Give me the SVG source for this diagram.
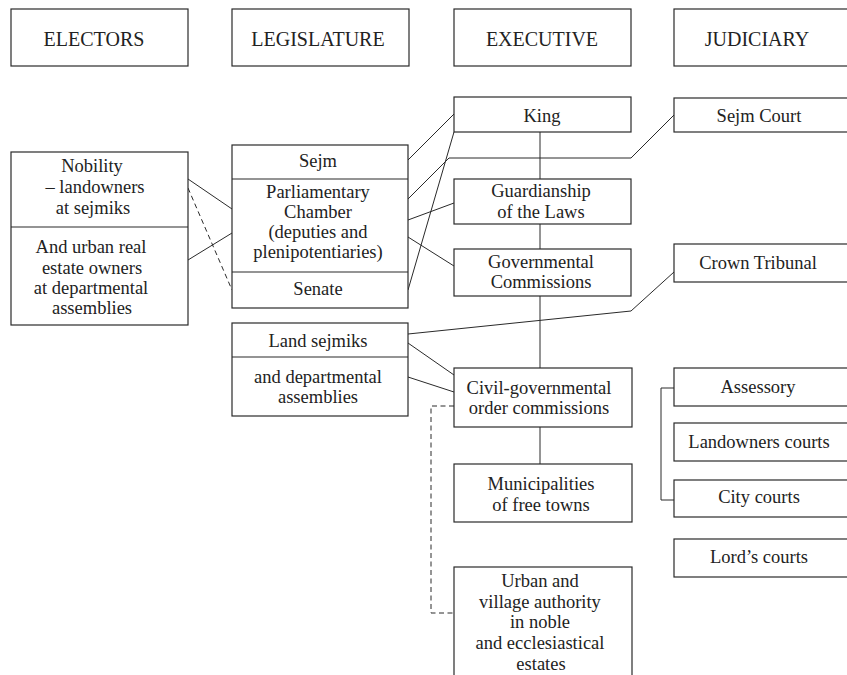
<svg xmlns="http://www.w3.org/2000/svg" width="847" height="675" viewBox="0 0 847 675">
<style>
rect{fill:#fff;stroke:#2a2a2a;stroke-width:1.2}
.sep{stroke:#2a2a2a;stroke-width:1.2}
text{font-family:"Liberation Serif","Times New Roman",serif;font-size:18.5px;fill:#222;text-anchor:middle}
.h{font-size:20px}
#connectors path,#connectors line{fill:none;stroke:#2a2a2a;stroke-width:1}
#connectors .d{stroke-dasharray:5 3.5}
</style>
<rect width="847" height="675" style="fill:#fff;stroke:none"/>
<g id="connectors">
<line x1="188" y1="179" x2="232" y2="209"/>
<line x1="188" y1="260" x2="232" y2="233"/>
<line class="d" x1="188" y1="188" x2="232" y2="290"/>
<line x1="408" y1="160" x2="454" y2="114"/>
<path d="M408 199 L449 158 L631 158 L674 115"/>
<line x1="408" y1="220" x2="454" y2="203"/>
<line x1="408" y1="237" x2="454" y2="266"/>
<line x1="408" y1="290" x2="454" y2="132"/>
<path d="M408 334 L631 311 L674 272"/>
<line x1="408" y1="343" x2="454" y2="375"/>
<line x1="408" y1="377" x2="454" y2="392"/>
<path class="d" d="M454 406 L431 406 L431 613 L454 613"/>
<line x1="540" y1="132" x2="540" y2="179"/>
<line x1="540" y1="224" x2="540" y2="249"/>
<line x1="540" y1="296" x2="540" y2="368"/>
<line x1="540" y1="427" x2="540" y2="464"/>
<path d="M674 388 L661 388 L661 500 L674 500"/>
</g>
<g id="h-electors"><rect x="11" y="9" width="177" height="57"/><text class="h" x="94" y="46">ELECTORS</text></g>
<g id="h-legislature"><rect x="232" y="9" width="177" height="57"/><text class="h" x="318" y="46">LEGISLATURE</text></g>
<g id="h-executive"><rect x="454" y="9" width="177" height="57"/><text class="h" x="542" y="46">EXECUTIVE</text></g>
<g id="h-judiciary"><rect x="674" y="9" width="180" height="57"/><text class="h" x="757" y="46">JUDICIARY</text></g>
<g id="electors-box">
<rect x="11" y="152" width="177" height="173"/>
<line class="sep" x1="11" y1="227" x2="188" y2="227"/>
<g id="nobility"><text x="92" y="172">Nobility</text><text x="95" y="193">– landowners</text><text x="93" y="214">at sejmiks</text></g>
<g id="urban-owners"><text x="91" y="253">And urban real</text><text x="92" y="274">estate owners</text><text x="91" y="294">at departmental</text><text x="92" y="314">assemblies</text></g>
</g>
<g id="legislature-box">
<rect x="232" y="145" width="176" height="163"/>
<line class="sep" x1="232" y1="179" x2="408" y2="179"/>
<line class="sep" x1="232" y1="272" x2="408" y2="272"/>
<g id="sejm"><text x="318" y="167">Sejm</text></g>
<g id="chamber"><text x="318" y="198">Parliamentary</text><text x="318" y="218">Chamber</text><text x="318" y="238">(deputies and</text><text x="318" y="258">plenipotentiaries)</text></g>
<g id="senate"><text x="318" y="295">Senate</text></g>
</g>
<g id="sejmiks-box">
<rect x="232" y="323" width="176" height="93"/>
<line class="sep" x1="232" y1="357" x2="408" y2="357"/>
<g id="land-sejmiks"><text x="318" y="347">Land sejmiks</text></g>
<g id="departmental"><text x="318" y="383">and departmental</text><text x="318" y="403">assemblies</text></g>
</g>
<g id="king"><rect x="454" y="97" width="177" height="35"/><text x="542" y="122">King</text></g>
<g id="guardianship"><rect x="454" y="179" width="177" height="45"/><text x="541" y="197">Guardianship</text><text x="541" y="218">of the Laws</text></g>
<g id="governmental"><rect x="454" y="249" width="177" height="47"/><text x="541" y="268">Governmental</text><text x="541" y="288">Commissions</text></g>
<g id="civil"><rect x="454" y="368" width="178" height="59"/><text x="539" y="394">Civil-governmental</text><text x="539" y="414">order commissions</text></g>
<g id="municipalities"><rect x="454" y="464" width="178" height="58"/><text x="541" y="490">Municipalities</text><text x="541" y="511">of free towns</text></g>
<g id="village"><rect x="454" y="567" width="178" height="120"/><text x="540" y="587">Urban and</text><text x="540" y="608">village authority</text><text x="540" y="628">in noble</text><text x="540" y="649">and ecclesiastical</text><text x="541" y="670">estates</text></g>
<g id="sejm-court"><rect x="674" y="98" width="180" height="34"/><text x="759" y="122">Sejm Court</text></g>
<g id="crown-tribunal"><rect x="674" y="244" width="180" height="38"/><text x="758" y="269">Crown Tribunal</text></g>
<g id="assessory"><rect x="674" y="368" width="180" height="38"/><text x="758" y="393">Assessory</text></g>
<g id="landowners-courts"><rect x="674" y="423" width="180" height="38"/><text x="759" y="448">Landowners courts</text></g>
<g id="city-courts"><rect x="674" y="480" width="180" height="37"/><text x="759" y="503">City courts</text></g>
<g id="lords-courts"><rect x="674" y="539" width="180" height="38"/><text x="759" y="563">Lord’s courts</text></g>
</svg>
